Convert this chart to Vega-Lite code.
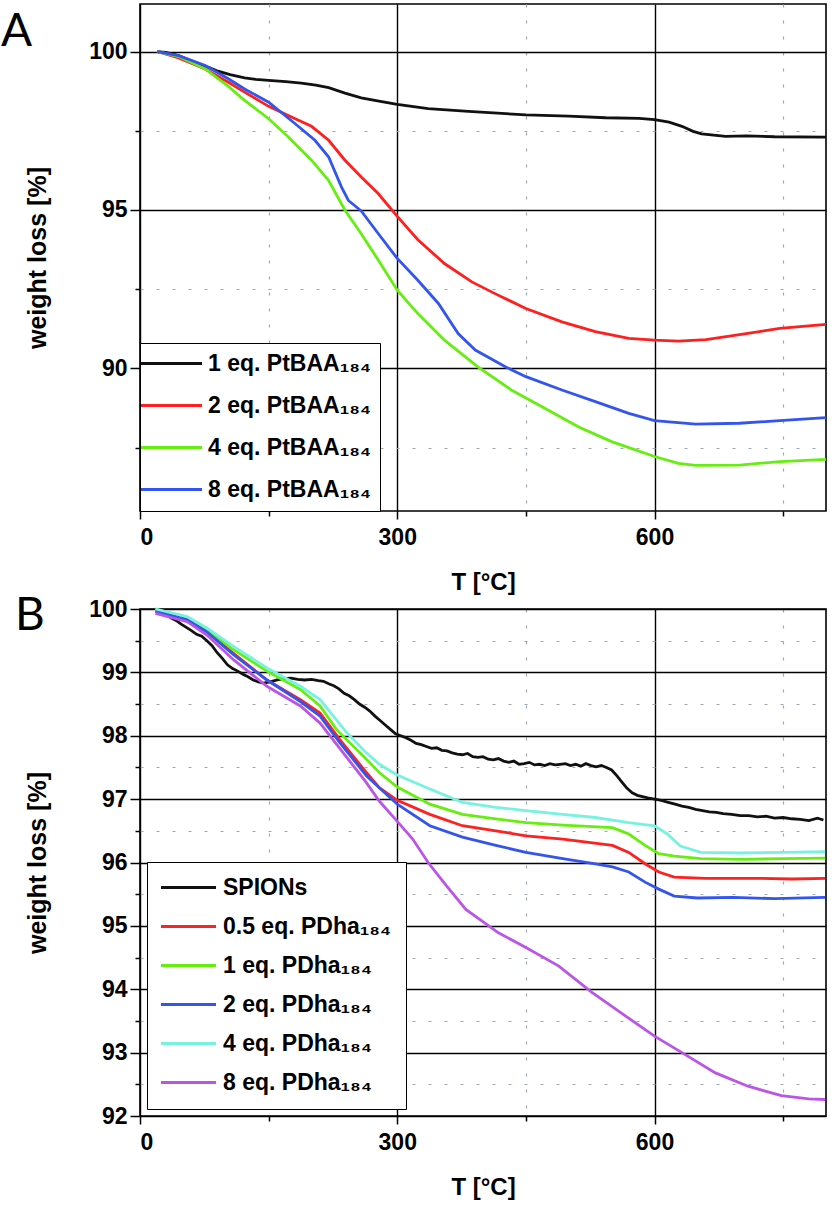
{
  "$schema": "https://vega.github.io/schema/vega-lite/v6.json",
  "autosize": {"type": "pad"},
  "padding": {"left": 0, "top": 3, "right": 3, "bottom": 3},
  "background": "white",
  "bounds": "flush",
  "spacing": 98,
  "config": {
    "view": {"stroke": "#000000", "strokeWidth": 1.6},
    "axis": {
      "domain": false,
      "gridColor": "#000000",
      "gridWidth": 1.4,
      "gridOpacity": 1,
      "tickColor": "#000000",
      "tickWidth": 1.5,
      "labelFont": "Liberation Sans",
      "labelFontWeight": "bold",
      "labelFontSize": 23,
      "labelColor": "#000000",
      "titleFont": "Liberation Sans",
      "titleFontWeight": "bold",
      "titleFontSize": 24,
      "titleColor": "#000000"
    },
    "legend": {
      "labelFont": "Liberation Sans",
      "labelFontWeight": "bold",
      "labelFontSize": 23,
      "labelColor": "#000000",
      "labelLimit": 0,
      "strokeColor": "#000000",
      "fillColor": "#ffffff",
      "symbolSize": 256,
      "symbolStrokeWidth": 3
    },
    "title": {"font": "Lato", "fontSize": 46, "fontWeight": "normal", "color": "#000000"}
  },
  "resolve": {"scale": {"color": "independent"}},
  "datasets": {
    "tga_a": [
      {"s": "1 eq. PtBAA₁₈₄", "T": 20, "w": 100},
      {"s": "1 eq. PtBAA₁₈₄", "T": 30, "w": 99.97},
      {"s": "1 eq. PtBAA₁₈₄", "T": 45, "w": 99.87},
      {"s": "1 eq. PtBAA₁₈₄", "T": 64, "w": 99.66},
      {"s": "1 eq. PtBAA₁₈₄", "T": 80, "w": 99.5},
      {"s": "1 eq. PtBAA₁₈₄", "T": 91, "w": 99.38},
      {"s": "1 eq. PtBAA₁₈₄", "T": 105, "w": 99.27},
      {"s": "1 eq. PtBAA₁₈₄", "T": 122, "w": 99.17},
      {"s": "1 eq. PtBAA₁₈₄", "T": 135, "w": 99.12},
      {"s": "1 eq. PtBAA₁₈₄", "T": 150, "w": 99.09},
      {"s": "1 eq. PtBAA₁₈₄", "T": 170, "w": 99.05},
      {"s": "1 eq. PtBAA₁₈₄", "T": 188, "w": 99.0},
      {"s": "1 eq. PtBAA₁₈₄", "T": 205, "w": 98.94},
      {"s": "1 eq. PtBAA₁₈₄", "T": 220, "w": 98.86},
      {"s": "1 eq. PtBAA₁₈₄", "T": 239, "w": 98.69},
      {"s": "1 eq. PtBAA₁₈₄", "T": 258, "w": 98.54},
      {"s": "1 eq. PtBAA₁₈₄", "T": 277, "w": 98.44},
      {"s": "1 eq. PtBAA₁₈₄", "T": 300, "w": 98.33},
      {"s": "1 eq. PtBAA₁₈₄", "T": 336, "w": 98.2},
      {"s": "1 eq. PtBAA₁₈₄", "T": 383, "w": 98.11},
      {"s": "1 eq. PtBAA₁₈₄", "T": 450, "w": 98.0},
      {"s": "1 eq. PtBAA₁₈₄", "T": 500, "w": 97.96},
      {"s": "1 eq. PtBAA₁₈₄", "T": 543, "w": 97.91},
      {"s": "1 eq. PtBAA₁₈₄", "T": 582, "w": 97.89},
      {"s": "1 eq. PtBAA₁₈₄", "T": 600, "w": 97.85},
      {"s": "1 eq. PtBAA₁₈₄", "T": 617, "w": 97.77},
      {"s": "1 eq. PtBAA₁₈₄", "T": 632, "w": 97.64},
      {"s": "1 eq. PtBAA₁₈₄", "T": 645, "w": 97.48},
      {"s": "1 eq. PtBAA₁₈₄", "T": 655, "w": 97.4},
      {"s": "1 eq. PtBAA₁₈₄", "T": 683, "w": 97.32},
      {"s": "1 eq. PtBAA₁₈₄", "T": 707, "w": 97.34},
      {"s": "1 eq. PtBAA₁₈₄", "T": 740, "w": 97.31},
      {"s": "1 eq. PtBAA₁₈₄", "T": 800, "w": 97.3},
      {"s": "2 eq. PtBAA₁₈₄", "T": 20, "w": 100},
      {"s": "2 eq. PtBAA₁₈₄", "T": 45, "w": 99.8},
      {"s": "2 eq. PtBAA₁₈₄", "T": 76, "w": 99.45},
      {"s": "2 eq. PtBAA₁₈₄", "T": 103, "w": 99.03},
      {"s": "2 eq. PtBAA₁₈₄", "T": 122, "w": 98.72},
      {"s": "2 eq. PtBAA₁₈₄", "T": 150, "w": 98.27},
      {"s": "2 eq. PtBAA₁₈₄", "T": 181, "w": 97.88},
      {"s": "2 eq. PtBAA₁₈₄", "T": 200, "w": 97.64},
      {"s": "2 eq. PtBAA₁₈₄", "T": 220, "w": 97.2},
      {"s": "2 eq. PtBAA₁₈₄", "T": 239, "w": 96.57},
      {"s": "2 eq. PtBAA₁₈₄", "T": 258, "w": 96.04},
      {"s": "2 eq. PtBAA₁₈₄", "T": 278, "w": 95.51},
      {"s": "2 eq. PtBAA₁₈₄", "T": 300, "w": 94.8},
      {"s": "2 eq. PtBAA₁₈₄", "T": 324, "w": 94.06},
      {"s": "2 eq. PtBAA₁₈₄", "T": 355, "w": 93.31},
      {"s": "2 eq. PtBAA₁₈₄", "T": 387, "w": 92.73},
      {"s": "2 eq. PtBAA₁₈₄", "T": 414, "w": 92.36},
      {"s": "2 eq. PtBAA₁₈₄", "T": 450, "w": 91.89},
      {"s": "2 eq. PtBAA₁₈₄", "T": 492, "w": 91.47},
      {"s": "2 eq. PtBAA₁₈₄", "T": 531, "w": 91.16},
      {"s": "2 eq. PtBAA₁₈₄", "T": 570, "w": 90.95},
      {"s": "2 eq. PtBAA₁₈₄", "T": 600, "w": 90.89},
      {"s": "2 eq. PtBAA₁₈₄", "T": 628, "w": 90.86},
      {"s": "2 eq. PtBAA₁₈₄", "T": 660, "w": 90.91},
      {"s": "2 eq. PtBAA₁₈₄", "T": 707, "w": 91.1},
      {"s": "2 eq. PtBAA₁₈₄", "T": 746, "w": 91.26},
      {"s": "2 eq. PtBAA₁₈₄", "T": 800, "w": 91.39},
      {"s": "4 eq. PtBAA₁₈₄", "T": 20, "w": 100},
      {"s": "4 eq. PtBAA₁₈₄", "T": 45, "w": 99.84},
      {"s": "4 eq. PtBAA₁₈₄", "T": 76, "w": 99.45},
      {"s": "4 eq. PtBAA₁₈₄", "T": 103, "w": 98.9},
      {"s": "4 eq. PtBAA₁₈₄", "T": 122, "w": 98.46},
      {"s": "4 eq. PtBAA₁₈₄", "T": 150, "w": 97.88},
      {"s": "4 eq. PtBAA₁₈₄", "T": 173, "w": 97.3},
      {"s": "4 eq. PtBAA₁₈₄", "T": 200, "w": 96.57},
      {"s": "4 eq. PtBAA₁₈₄", "T": 220, "w": 95.93},
      {"s": "4 eq. PtBAA₁₈₄", "T": 239, "w": 94.99},
      {"s": "4 eq. PtBAA₁₈₄", "T": 258, "w": 94.25},
      {"s": "4 eq. PtBAA₁₈₄", "T": 278, "w": 93.41},
      {"s": "4 eq. PtBAA₁₈₄", "T": 300, "w": 92.47},
      {"s": "4 eq. PtBAA₁₈₄", "T": 324, "w": 91.73},
      {"s": "4 eq. PtBAA₁₈₄", "T": 355, "w": 90.89},
      {"s": "4 eq. PtBAA₁₈₄", "T": 394, "w": 90.05},
      {"s": "4 eq. PtBAA₁₈₄", "T": 433, "w": 89.32},
      {"s": "4 eq. PtBAA₁₈₄", "T": 472, "w": 88.74},
      {"s": "4 eq. PtBAA₁₈₄", "T": 511, "w": 88.16},
      {"s": "4 eq. PtBAA₁₈₄", "T": 550, "w": 87.69},
      {"s": "4 eq. PtBAA₁₈₄", "T": 600, "w": 87.22},
      {"s": "4 eq. PtBAA₁₈₄", "T": 628, "w": 87.0},
      {"s": "4 eq. PtBAA₁₈₄", "T": 648, "w": 86.94},
      {"s": "4 eq. PtBAA₁₈₄", "T": 699, "w": 86.95},
      {"s": "4 eq. PtBAA₁₈₄", "T": 746, "w": 87.06},
      {"s": "4 eq. PtBAA₁₈₄", "T": 800, "w": 87.13},
      {"s": "8 eq. PtBAA₁₈₄", "T": 20, "w": 100},
      {"s": "8 eq. PtBAA₁₈₄", "T": 45, "w": 99.87},
      {"s": "8 eq. PtBAA₁₈₄", "T": 76, "w": 99.56},
      {"s": "8 eq. PtBAA₁₈₄", "T": 103, "w": 99.14},
      {"s": "8 eq. PtBAA₁₈₄", "T": 122, "w": 98.82},
      {"s": "8 eq. PtBAA₁₈₄", "T": 150, "w": 98.4},
      {"s": "8 eq. PtBAA₁₈₄", "T": 181, "w": 97.72},
      {"s": "8 eq. PtBAA₁₈₄", "T": 204, "w": 97.2},
      {"s": "8 eq. PtBAA₁₈₄", "T": 220, "w": 96.67},
      {"s": "8 eq. PtBAA₁₈₄", "T": 235, "w": 95.72},
      {"s": "8 eq. PtBAA₁₈₄", "T": 243, "w": 95.3},
      {"s": "8 eq. PtBAA₁₈₄", "T": 258, "w": 94.97},
      {"s": "8 eq. PtBAA₁₈₄", "T": 278, "w": 94.25},
      {"s": "8 eq. PtBAA₁₈₄", "T": 300, "w": 93.47},
      {"s": "8 eq. PtBAA₁₈₄", "T": 324, "w": 92.78},
      {"s": "8 eq. PtBAA₁₈₄", "T": 348, "w": 92.05},
      {"s": "8 eq. PtBAA₁₈₄", "T": 371, "w": 91.1},
      {"s": "8 eq. PtBAA₁₈₄", "T": 391, "w": 90.58},
      {"s": "8 eq. PtBAA₁₈₄", "T": 426, "w": 90.05},
      {"s": "8 eq. PtBAA₁₈₄", "T": 450, "w": 89.74},
      {"s": "8 eq. PtBAA₁₈₄", "T": 492, "w": 89.32},
      {"s": "8 eq. PtBAA₁₈₄", "T": 531, "w": 88.95},
      {"s": "8 eq. PtBAA₁₈₄", "T": 570, "w": 88.58},
      {"s": "8 eq. PtBAA₁₈₄", "T": 600, "w": 88.35},
      {"s": "8 eq. PtBAA₁₈₄", "T": 648, "w": 88.24},
      {"s": "8 eq. PtBAA₁₈₄", "T": 699, "w": 88.27},
      {"s": "8 eq. PtBAA₁₈₄", "T": 746, "w": 88.35},
      {"s": "8 eq. PtBAA₁₈₄", "T": 800, "w": 88.45}
    ],
    "tga_b": [
      {"s": "SPIONs", "T": 18, "w": 100.0},
      {"s": "SPIONs", "T": 24, "w": 99.97},
      {"s": "SPIONs", "T": 30, "w": 99.93},
      {"s": "SPIONs", "T": 36, "w": 99.86},
      {"s": "SPIONs", "T": 42, "w": 99.82},
      {"s": "SPIONs", "T": 48, "w": 99.76},
      {"s": "SPIONs", "T": 54, "w": 99.71},
      {"s": "SPIONs", "T": 60, "w": 99.66},
      {"s": "SPIONs", "T": 66, "w": 99.6},
      {"s": "SPIONs", "T": 72, "w": 99.57},
      {"s": "SPIONs", "T": 78, "w": 99.5},
      {"s": "SPIONs", "T": 84, "w": 99.42},
      {"s": "SPIONs", "T": 90, "w": 99.31},
      {"s": "SPIONs", "T": 96, "w": 99.22},
      {"s": "SPIONs", "T": 102, "w": 99.12},
      {"s": "SPIONs", "T": 108, "w": 99.06},
      {"s": "SPIONs", "T": 114, "w": 99.02},
      {"s": "SPIONs", "T": 120, "w": 98.97},
      {"s": "SPIONs", "T": 126, "w": 98.93},
      {"s": "SPIONs", "T": 132, "w": 98.88},
      {"s": "SPIONs", "T": 138, "w": 98.85},
      {"s": "SPIONs", "T": 144, "w": 98.83},
      {"s": "SPIONs", "T": 152, "w": 98.85},
      {"s": "SPIONs", "T": 160, "w": 98.88},
      {"s": "SPIONs", "T": 168, "w": 98.9},
      {"s": "SPIONs", "T": 176, "w": 98.91},
      {"s": "SPIONs", "T": 184, "w": 98.89},
      {"s": "SPIONs", "T": 192, "w": 98.88},
      {"s": "SPIONs", "T": 200, "w": 98.89},
      {"s": "SPIONs", "T": 208, "w": 98.87},
      {"s": "SPIONs", "T": 214, "w": 98.86},
      {"s": "SPIONs", "T": 220, "w": 98.82},
      {"s": "SPIONs", "T": 226, "w": 98.79},
      {"s": "SPIONs", "T": 232, "w": 98.74},
      {"s": "SPIONs", "T": 238, "w": 98.67},
      {"s": "SPIONs", "T": 244, "w": 98.63},
      {"s": "SPIONs", "T": 250, "w": 98.57},
      {"s": "SPIONs", "T": 256, "w": 98.5},
      {"s": "SPIONs", "T": 262, "w": 98.45},
      {"s": "SPIONs", "T": 268, "w": 98.39},
      {"s": "SPIONs", "T": 274, "w": 98.31},
      {"s": "SPIONs", "T": 280, "w": 98.24},
      {"s": "SPIONs", "T": 286, "w": 98.17},
      {"s": "SPIONs", "T": 292, "w": 98.1},
      {"s": "SPIONs", "T": 298, "w": 98.03},
      {"s": "SPIONs", "T": 304, "w": 98.0},
      {"s": "SPIONs", "T": 310, "w": 97.97},
      {"s": "SPIONs", "T": 316, "w": 97.93},
      {"s": "SPIONs", "T": 322, "w": 97.88},
      {"s": "SPIONs", "T": 328, "w": 97.86},
      {"s": "SPIONs", "T": 334, "w": 97.83},
      {"s": "SPIONs", "T": 340, "w": 97.8},
      {"s": "SPIONs", "T": 346, "w": 97.81},
      {"s": "SPIONs", "T": 352, "w": 97.77},
      {"s": "SPIONs", "T": 358, "w": 97.76},
      {"s": "SPIONs", "T": 364, "w": 97.73},
      {"s": "SPIONs", "T": 370, "w": 97.71},
      {"s": "SPIONs", "T": 376, "w": 97.7},
      {"s": "SPIONs", "T": 382, "w": 97.72},
      {"s": "SPIONs", "T": 388, "w": 97.67},
      {"s": "SPIONs", "T": 394, "w": 97.66},
      {"s": "SPIONs", "T": 400, "w": 97.67},
      {"s": "SPIONs", "T": 406, "w": 97.63},
      {"s": "SPIONs", "T": 412, "w": 97.62},
      {"s": "SPIONs", "T": 418, "w": 97.64},
      {"s": "SPIONs", "T": 424, "w": 97.6},
      {"s": "SPIONs", "T": 430, "w": 97.58},
      {"s": "SPIONs", "T": 436, "w": 97.6},
      {"s": "SPIONs", "T": 442, "w": 97.55},
      {"s": "SPIONs", "T": 448, "w": 97.56},
      {"s": "SPIONs", "T": 454, "w": 97.58},
      {"s": "SPIONs", "T": 460, "w": 97.54},
      {"s": "SPIONs", "T": 466, "w": 97.55},
      {"s": "SPIONs", "T": 472, "w": 97.53},
      {"s": "SPIONs", "T": 478, "w": 97.56},
      {"s": "SPIONs", "T": 484, "w": 97.54},
      {"s": "SPIONs", "T": 490, "w": 97.55},
      {"s": "SPIONs", "T": 496, "w": 97.56},
      {"s": "SPIONs", "T": 502, "w": 97.53},
      {"s": "SPIONs", "T": 508, "w": 97.55},
      {"s": "SPIONs", "T": 514, "w": 97.52},
      {"s": "SPIONs", "T": 520, "w": 97.56},
      {"s": "SPIONs", "T": 526, "w": 97.53},
      {"s": "SPIONs", "T": 532, "w": 97.51},
      {"s": "SPIONs", "T": 538, "w": 97.53},
      {"s": "SPIONs", "T": 544, "w": 97.5},
      {"s": "SPIONs", "T": 550, "w": 97.46},
      {"s": "SPIONs", "T": 556, "w": 97.37},
      {"s": "SPIONs", "T": 562, "w": 97.27},
      {"s": "SPIONs", "T": 568, "w": 97.17},
      {"s": "SPIONs", "T": 574, "w": 97.1},
      {"s": "SPIONs", "T": 580, "w": 97.06},
      {"s": "SPIONs", "T": 586, "w": 97.04},
      {"s": "SPIONs", "T": 592, "w": 97.02},
      {"s": "SPIONs", "T": 600, "w": 97.0},
      {"s": "SPIONs", "T": 608, "w": 96.98},
      {"s": "SPIONs", "T": 616, "w": 96.95},
      {"s": "SPIONs", "T": 624, "w": 96.92},
      {"s": "SPIONs", "T": 632, "w": 96.89},
      {"s": "SPIONs", "T": 640, "w": 96.87},
      {"s": "SPIONs", "T": 648, "w": 96.84},
      {"s": "SPIONs", "T": 656, "w": 96.82},
      {"s": "SPIONs", "T": 664, "w": 96.8},
      {"s": "SPIONs", "T": 672, "w": 96.79},
      {"s": "SPIONs", "T": 680, "w": 96.77},
      {"s": "SPIONs", "T": 690, "w": 96.76},
      {"s": "SPIONs", "T": 700, "w": 96.74},
      {"s": "SPIONs", "T": 710, "w": 96.74},
      {"s": "SPIONs", "T": 720, "w": 96.72},
      {"s": "SPIONs", "T": 730, "w": 96.73},
      {"s": "SPIONs", "T": 740, "w": 96.7},
      {"s": "SPIONs", "T": 750, "w": 96.71},
      {"s": "SPIONs", "T": 760, "w": 96.69},
      {"s": "SPIONs", "T": 770, "w": 96.68},
      {"s": "SPIONs", "T": 780, "w": 96.66},
      {"s": "SPIONs", "T": 790, "w": 96.7},
      {"s": "SPIONs", "T": 797, "w": 96.67},
      {"s": "0.5 eq. PDha₁₈₄", "T": 18, "w": 99.96},
      {"s": "0.5 eq. PDha₁₈₄", "T": 55, "w": 99.83},
      {"s": "0.5 eq. PDha₁₈₄", "T": 78, "w": 99.64},
      {"s": "0.5 eq. PDha₁₈₄", "T": 109, "w": 99.3},
      {"s": "0.5 eq. PDha₁₈₄", "T": 148, "w": 98.88},
      {"s": "0.5 eq. PDha₁₈₄", "T": 187, "w": 98.57},
      {"s": "0.5 eq. PDha₁₈₄", "T": 210, "w": 98.36},
      {"s": "0.5 eq. PDha₁₈₄", "T": 233, "w": 97.94},
      {"s": "0.5 eq. PDha₁₈₄", "T": 264, "w": 97.42},
      {"s": "0.5 eq. PDha₁₈₄", "T": 279, "w": 97.18},
      {"s": "0.5 eq. PDha₁₈₄", "T": 300, "w": 96.98},
      {"s": "0.5 eq. PDha₁₈₄", "T": 338, "w": 96.76},
      {"s": "0.5 eq. PDha₁₈₄", "T": 376, "w": 96.58},
      {"s": "0.5 eq. PDha₁₈₄", "T": 415, "w": 96.5},
      {"s": "0.5 eq. PDha₁₈₄", "T": 450, "w": 96.42},
      {"s": "0.5 eq. PDha₁₈₄", "T": 493, "w": 96.37},
      {"s": "0.5 eq. PDha₁₈₄", "T": 551, "w": 96.27},
      {"s": "0.5 eq. PDha₁₈₄", "T": 570, "w": 96.16},
      {"s": "0.5 eq. PDha₁₈₄", "T": 589, "w": 95.98},
      {"s": "0.5 eq. PDha₁₈₄", "T": 605, "w": 95.85},
      {"s": "0.5 eq. PDha₁₈₄", "T": 623, "w": 95.77},
      {"s": "0.5 eq. PDha₁₈₄", "T": 660, "w": 95.75},
      {"s": "0.5 eq. PDha₁₈₄", "T": 720, "w": 95.75},
      {"s": "0.5 eq. PDha₁₈₄", "T": 760, "w": 95.74},
      {"s": "0.5 eq. PDha₁₈₄", "T": 799, "w": 95.75},
      {"s": "1 eq. PDha₁₈₄", "T": 18, "w": 100},
      {"s": "1 eq. PDha₁₈₄", "T": 55, "w": 99.85},
      {"s": "1 eq. PDha₁₈₄", "T": 78, "w": 99.67},
      {"s": "1 eq. PDha₁₈₄", "T": 109, "w": 99.36},
      {"s": "1 eq. PDha₁₈₄", "T": 148, "w": 99.02},
      {"s": "1 eq. PDha₁₈₄", "T": 187, "w": 98.73},
      {"s": "1 eq. PDha₁₈₄", "T": 210, "w": 98.47},
      {"s": "1 eq. PDha₁₈₄", "T": 229, "w": 98.1},
      {"s": "1 eq. PDha₁₈₄", "T": 264, "w": 97.63},
      {"s": "1 eq. PDha₁₈₄", "T": 279, "w": 97.42},
      {"s": "1 eq. PDha₁₈₄", "T": 300, "w": 97.19},
      {"s": "1 eq. PDha₁₈₄", "T": 338, "w": 96.92},
      {"s": "1 eq. PDha₁₈₄", "T": 376, "w": 96.76},
      {"s": "1 eq. PDha₁₈₄", "T": 415, "w": 96.69},
      {"s": "1 eq. PDha₁₈₄", "T": 450, "w": 96.63},
      {"s": "1 eq. PDha₁₈₄", "T": 493, "w": 96.59},
      {"s": "1 eq. PDha₁₈₄", "T": 551, "w": 96.55},
      {"s": "1 eq. PDha₁₈₄", "T": 570, "w": 96.45},
      {"s": "1 eq. PDha₁₈₄", "T": 589, "w": 96.27},
      {"s": "1 eq. PDha₁₈₄", "T": 605, "w": 96.14},
      {"s": "1 eq. PDha₁₈₄", "T": 623, "w": 96.1},
      {"s": "1 eq. PDha₁₈₄", "T": 654, "w": 96.06},
      {"s": "1 eq. PDha₁₈₄", "T": 700, "w": 96.05},
      {"s": "1 eq. PDha₁₈₄", "T": 750, "w": 96.06},
      {"s": "1 eq. PDha₁₈₄", "T": 799, "w": 96.07},
      {"s": "2 eq. PDha₁₈₄", "T": 18, "w": 99.97},
      {"s": "2 eq. PDha₁₈₄", "T": 55, "w": 99.83},
      {"s": "2 eq. PDha₁₈₄", "T": 78, "w": 99.64},
      {"s": "2 eq. PDha₁₈₄", "T": 109, "w": 99.28},
      {"s": "2 eq. PDha₁₈₄", "T": 148, "w": 98.88},
      {"s": "2 eq. PDha₁₈₄", "T": 187, "w": 98.54},
      {"s": "2 eq. PDha₁₈₄", "T": 210, "w": 98.31},
      {"s": "2 eq. PDha₁₈₄", "T": 233, "w": 97.89},
      {"s": "2 eq. PDha₁₈₄", "T": 264, "w": 97.37},
      {"s": "2 eq. PDha₁₈₄", "T": 279, "w": 97.18},
      {"s": "2 eq. PDha₁₈₄", "T": 300, "w": 96.92},
      {"s": "2 eq. PDha₁₈₄", "T": 338, "w": 96.58},
      {"s": "2 eq. PDha₁₈₄", "T": 376, "w": 96.4},
      {"s": "2 eq. PDha₁₈₄", "T": 415, "w": 96.27},
      {"s": "2 eq. PDha₁₈₄", "T": 450, "w": 96.16},
      {"s": "2 eq. PDha₁₈₄", "T": 493, "w": 96.06},
      {"s": "2 eq. PDha₁₈₄", "T": 531, "w": 95.98},
      {"s": "2 eq. PDha₁₈₄", "T": 551, "w": 95.93},
      {"s": "2 eq. PDha₁₈₄", "T": 570, "w": 95.85},
      {"s": "2 eq. PDha₁₈₄", "T": 589, "w": 95.69},
      {"s": "2 eq. PDha₁₈₄", "T": 605, "w": 95.58},
      {"s": "2 eq. PDha₁₈₄", "T": 623, "w": 95.47},
      {"s": "2 eq. PDha₁₈₄", "T": 650, "w": 95.44},
      {"s": "2 eq. PDha₁₈₄", "T": 692, "w": 95.45},
      {"s": "2 eq. PDha₁₈₄", "T": 740, "w": 95.43},
      {"s": "2 eq. PDha₁₈₄", "T": 799, "w": 95.45},
      {"s": "4 eq. PDha₁₈₄", "T": 18, "w": 100},
      {"s": "4 eq. PDha₁₈₄", "T": 55, "w": 99.88},
      {"s": "4 eq. PDha₁₈₄", "T": 78, "w": 99.7},
      {"s": "4 eq. PDha₁₈₄", "T": 109, "w": 99.41},
      {"s": "4 eq. PDha₁₈₄", "T": 148, "w": 99.07},
      {"s": "4 eq. PDha₁₈₄", "T": 187, "w": 98.78},
      {"s": "4 eq. PDha₁₈₄", "T": 210, "w": 98.57},
      {"s": "4 eq. PDha₁₈₄", "T": 241, "w": 98.05},
      {"s": "4 eq. PDha₁₈₄", "T": 264, "w": 97.73},
      {"s": "4 eq. PDha₁₈₄", "T": 279, "w": 97.55},
      {"s": "4 eq. PDha₁₈₄", "T": 300, "w": 97.38},
      {"s": "4 eq. PDha₁₈₄", "T": 338, "w": 97.16},
      {"s": "4 eq. PDha₁₈₄", "T": 376, "w": 96.95},
      {"s": "4 eq. PDha₁₈₄", "T": 415, "w": 96.87},
      {"s": "4 eq. PDha₁₈₄", "T": 450, "w": 96.82},
      {"s": "4 eq. PDha₁₈₄", "T": 493, "w": 96.76},
      {"s": "4 eq. PDha₁₈₄", "T": 531, "w": 96.71},
      {"s": "4 eq. PDha₁₈₄", "T": 570, "w": 96.63},
      {"s": "4 eq. PDha₁₈₄", "T": 600, "w": 96.58},
      {"s": "4 eq. PDha₁₈₄", "T": 615, "w": 96.45},
      {"s": "4 eq. PDha₁₈₄", "T": 630, "w": 96.26},
      {"s": "4 eq. PDha₁₈₄", "T": 654, "w": 96.16},
      {"s": "4 eq. PDha₁₈₄", "T": 700, "w": 96.15},
      {"s": "4 eq. PDha₁₈₄", "T": 750, "w": 96.16},
      {"s": "4 eq. PDha₁₈₄", "T": 799, "w": 96.17},
      {"s": "8 eq. PDha₁₈₄", "T": 18, "w": 99.93},
      {"s": "8 eq. PDha₁₈₄", "T": 55, "w": 99.8},
      {"s": "8 eq. PDha₁₈₄", "T": 78, "w": 99.59},
      {"s": "8 eq. PDha₁₈₄", "T": 109, "w": 99.2},
      {"s": "8 eq. PDha₁₈₄", "T": 148, "w": 98.78},
      {"s": "8 eq. PDha₁₈₄", "T": 187, "w": 98.47},
      {"s": "8 eq. PDha₁₈₄", "T": 210, "w": 98.2},
      {"s": "8 eq. PDha₁₈₄", "T": 225, "w": 97.94},
      {"s": "8 eq. PDha₁₈₄", "T": 264, "w": 97.26},
      {"s": "8 eq. PDha₁₈₄", "T": 279, "w": 96.97},
      {"s": "8 eq. PDha₁₈₄", "T": 300, "w": 96.65},
      {"s": "8 eq. PDha₁₈₄", "T": 318, "w": 96.37},
      {"s": "8 eq. PDha₁₈₄", "T": 336, "w": 96.0},
      {"s": "8 eq. PDha₁₈₄", "T": 357, "w": 95.64},
      {"s": "8 eq. PDha₁₈₄", "T": 380, "w": 95.26},
      {"s": "8 eq. PDha₁₈₄", "T": 418, "w": 94.89},
      {"s": "8 eq. PDha₁₈₄", "T": 450, "w": 94.66},
      {"s": "8 eq. PDha₁₈₄", "T": 488, "w": 94.37},
      {"s": "8 eq. PDha₁₈₄", "T": 527, "w": 93.95},
      {"s": "8 eq. PDha₁₈₄", "T": 566, "w": 93.58},
      {"s": "8 eq. PDha₁₈₄", "T": 600, "w": 93.26},
      {"s": "8 eq. PDha₁₈₄", "T": 632, "w": 93.0},
      {"s": "8 eq. PDha₁₈₄", "T": 671, "w": 92.68},
      {"s": "8 eq. PDha₁₈₄", "T": 709, "w": 92.47},
      {"s": "8 eq. PDha₁₈₄", "T": 748, "w": 92.32},
      {"s": "8 eq. PDha₁₈₄", "T": 780, "w": 92.27},
      {"s": "8 eq. PDha₁₈₄", "T": 799, "w": 92.26}
    ]
  },
  "vconcat": [
    {
      "width": 686,
      "height": 507,
      "title": {"text": "A", "anchor": "start", "frame": "group", "baseline": "top", "offset": 0, "dx": -139, "dy": 52},
      "data": {"name": "tga_a"},
      "resolve": {"axis": {"x": "independent", "y": "independent"}},
      "layer": [
        {
          "mark": {"type": "line", "opacity": 0},
          "encoding": {
            "x": {"field": "T", "type": "quantitative", "scale": {"domain": [0, 800], "nice": false, "zero": false},
                  "axis": {"orient": "bottom", "values": [150, 450, 750], "grid": true, "gridColor": "#9aaabb", "gridDash": [3, 13], "gridWidth": 1.2, "labels": false, "tickSize": 5, "title": null}},
            "y": {"field": "w", "type": "quantitative", "scale": {"domain": [85.5, 101.5], "nice": false, "zero": false},
                  "axis": {"orient": "left", "values": [97.5, 92.5, 87.5], "grid": true, "gridColor": "#9aaabb", "gridDash": [3, 13], "gridWidth": 1.2, "labels": false, "tickSize": 5, "title": null}},
            "detail": {"field": "s"}
          }
        },
        {
          "mark": {"type": "line", "strokeWidth": 2.8},
          "encoding": {
            "x": {"field": "T", "type": "quantitative", "scale": {"domain": [0, 800], "nice": false, "zero": false},
                  "axis": {"orient": "bottom", "values": [0, 300, 600], "grid": true, "tickSize": 8, "labelPadding": 7, "title": "T [°C]", "titlePadding": 21}},
            "y": {"field": "w", "type": "quantitative", "scale": {"domain": [85.5, 101.5], "nice": false, "zero": false},
                  "axis": {"orient": "left", "values": [100, 95, 90], "grid": true, "tickSize": 10, "labelPadding": 3, "title": "weight loss [%]", "titleFontSize": 25, "titlePadding": 38}},
            "color": {
              "field": "s", "type": "nominal",
              "scale": {"domain": ["1 eq. PtBAA₁₈₄", "2 eq. PtBAA₁₈₄", "4 eq. PtBAA₁₈₄", "8 eq. PtBAA₁₈₄"], "range": ["#111111", "#ff1f1f", "#66ee11", "#3355ee"]},
              "legend": {"title": null, "orient": "bottom-left", "offset": 0, "padding": 9, "rowPadding": 18, "labelOffset": 36, "symbolType": "M-2.44,0H5.19"}
            }
          }
        }
      ]
    },
    {
      "width": 686,
      "height": 507,
      "title": {"text": "B", "anchor": "start", "frame": "group", "baseline": "top", "offset": 0, "dx": -125, "dy": 42},
      "data": {"name": "tga_b"},
      "resolve": {"axis": {"x": "independent", "y": "independent"}},
      "layer": [
        {
          "mark": {"type": "line", "opacity": 0},
          "encoding": {
            "x": {"field": "T", "type": "quantitative", "scale": {"domain": [0, 800], "nice": false, "zero": false},
                  "axis": {"orient": "bottom", "values": [150, 450, 750], "grid": true, "gridColor": "#9aaabb", "gridDash": [3, 13], "gridWidth": 1.2, "labels": false, "tickSize": 5, "title": null}},
            "y": {"field": "w", "type": "quantitative", "scale": {"domain": [92, 100], "nice": false, "zero": false},
                  "axis": {"orient": "left", "values": [99.5, 98.5, 97.5, 96.5, 95.5, 94.5, 93.5, 92.5], "grid": true, "gridColor": "#9aaabb", "gridDash": [3, 13], "gridWidth": 1.2, "labels": false, "tickSize": 5, "title": null}},
            "detail": {"field": "s"}
          }
        },
        {
          "mark": {"type": "line", "strokeWidth": 2.8},
          "encoding": {
            "x": {"field": "T", "type": "quantitative", "scale": {"domain": [0, 800], "nice": false, "zero": false},
                  "axis": {"orient": "bottom", "values": [0, 300, 600], "grid": true, "tickSize": 8, "labelPadding": 7, "title": "T [°C]", "titlePadding": 21}},
            "y": {"field": "w", "type": "quantitative", "scale": {"domain": [92, 100], "nice": false, "zero": false},
                  "axis": {"orient": "left", "values": [100, 99, 98, 97, 96, 95, 94, 93, 92], "grid": true, "tickSize": 10, "labelPadding": 3, "title": "weight loss [%]", "titleFontSize": 25, "titlePadding": 38}},
            "color": {
              "field": "s", "type": "nominal",
              "scale": {"domain": ["SPIONs", "0.5 eq. PDha₁₈₄", "1 eq. PDha₁₈₄", "2 eq. PDha₁₈₄", "4 eq. PDha₁₈₄", "8 eq. PDha₁₈₄"], "range": ["#111111", "#ff2020", "#66ee11", "#3355ee", "#77f2e0", "#bb55e6"]},
              "legend": {"title": null, "orient": "bottom-left", "offset": 7, "padding": 14, "rowPadding": 15, "labelOffset": 39, "symbolType": "M-1.44,0H5.44"}
            }
          }
        }
      ]
    }
  ]
}
